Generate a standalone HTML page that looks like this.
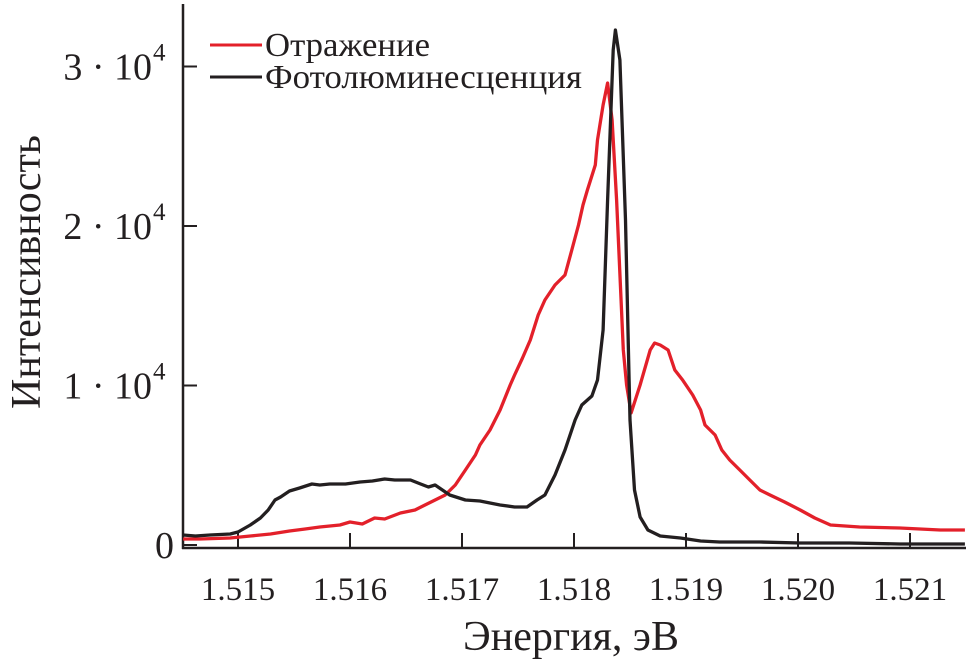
<!DOCTYPE html>
<html><head><meta charset="utf-8"><style>
html,body{margin:0;padding:0;background:#fff;}
svg text{font-family:"Liberation Serif",serif;fill:#231f20;}
</style></head><body>
<svg width="968" height="666" viewBox="0 0 968 666" xmlns="http://www.w3.org/2000/svg">
<g id="axes"></g>
<g id="series"></g>
<g>
  <line x1="210" y1="45" x2="262" y2="45" stroke="#e3202a" stroke-width="3"/>
  <text x="265" y="56" font-size="34" textLength="165" lengthAdjust="spacingAndGlyphs">Отражение</text>
  <line x1="210" y1="77" x2="262" y2="77" stroke="#231f20" stroke-width="3"/>
  <text x="265" y="88" font-size="34" textLength="317" lengthAdjust="spacingAndGlyphs">Фотолюминесценция</text>
</g>
<text x="571" y="650" font-size="42" text-anchor="middle">Энергия, эВ</text>
<text transform="translate(40,272) rotate(-90)" font-size="42" text-anchor="middle">Интенсивность</text>
</svg>
<script>
const xTicks = [1.515, 1.516, 1.517, 1.518, 1.519, 1.520, 1.521];
const xTickLabels = ["1.515", "1.516", "1.517", "1.518", "1.519", "1.520", "1.521"];
const yTicks = [0, 10000, 20000, 30000];
const yTickLabels = ["0", "1 · 10", "2 · 10", "3 · 10"];
const plE = [1.51451,1.51462,1.51475,1.51493,1.515,1.51511,1.5152,1.51527,1.51533,1.51538,1.51546,1.51555,1.51566,1.51573,1.51582,1.51596,1.51609,1.5162,1.51631,1.5164,1.51654,1.51663,1.5167,1.51676,1.51689,1.51703,1.51716,1.51734,1.51747,1.51758,1.51767,1.51774,1.51783,1.51792,1.51801,1.51807,1.51816,1.51821,1.51826,1.5183,1.51835,1.51837,1.51841,1.51846,1.5185,1.51854,1.51859,1.51866,1.51877,1.51895,1.51913,1.5193,1.51966,1.52002,1.52046,1.52091,1.52149];
const plI = [627,564,627,690,815,1254,1693,2195,2822,3010,3386,3574,3825,3762,3825,3825,3950,4013,4138,4076,4076,3825,3637,3762,3135,2822,2759,2508,2383,2383,2822,3135,4389,5957,7838,8778,9342,10346,13481,21632,31037,32291,30410,20378,7838,3449,1756,941,564,439,251,188,188,125,125,63,63];
const refE = [1.51451,1.51466,1.51493,1.51511,1.51529,1.51546,1.5156,1.51573,1.51591,1.516,1.51611,1.51622,1.51631,1.51645,1.51658,1.51667,1.51676,1.51685,1.51694,1.51703,1.51712,1.51716,1.51725,1.51734,1.51743,1.51747,1.51754,1.51761,1.51768,1.51774,1.51783,1.51792,1.51798,1.51804,1.51808,1.51812,1.51819,1.51821,1.51826,1.5183,1.51834,1.51838,1.51844,1.51847,1.51851,1.51859,1.51868,1.51872,1.51877,1.51884,1.5189,1.51897,1.51906,1.51913,1.51917,1.51926,1.51932,1.51939,1.51948,1.51957,1.51966,1.51975,1.51988,1.52002,1.52015,1.52029,1.52055,1.52091,1.52127,1.52149];
const refI = [376,376,439,564,690,878,1003,1129,1254,1442,1317,1693,1630,2006,2195,2508,2822,3135,3762,4703,5643,6270,7211,8465,10032,10659,11725,12854,14421,15362,16302,16929,18497,20064,21318,22259,23826,25394,27588,28967,26648,21632,12227,10032,8276,10032,12227,12665,12540,12227,10973,10346,9405,8465,7524,6897,5957,5330,4703,4076,3449,3135,2696,2195,1693,1254,1129,1066,941,941];

const NS = "http://www.w3.org/2000/svg";
const xOf = e => 238 + (e - 1.515) * 112000;
const yOf = v => 545 - v / 10000 * 159.5;
const axes = document.getElementById('axes');
const series = document.getElementById('series');
function mk(tag, attrs, parent) {
  const el = document.createElementNS(NS, tag);
  for (const k in attrs) el.setAttribute(k, attrs[k]);
  parent.appendChild(el);
  return el;
}
let el = mk('line', {x1:183, y1:4, x2:183, y2:549, stroke:'#231f20', 'stroke-width':2.5}, axes);


el = mk('line', {x1:182, y1:548, x2:966, y2:548, stroke:'#231f20', 'stroke-width':2.5}, axes);


xTicks.forEach((t, i) => {
  const x = xOf(t);
  const tk = mk('line', {x1:x, y1:548, x2:x, y2:533, stroke:'#231f20', 'stroke-width':2}, axes);
  
  
  const lb = mk('text', {x:x, y:600, 'font-size':33, 'text-anchor':'middle'}, axes);
  lb.textContent = xTickLabels[i];
  
  
});
yTicks.forEach((t, i) => {
  const y = yOf(t);
  const tk = mk('line', {x1:183, y1:y, x2:197, y2:y, stroke:'#231f20', 'stroke-width':2}, axes);
  
  
  const lb = mk('text', {x: t === 0 ? 174 : 152, y:y + 13, 'font-size':38, 'text-anchor':'end'}, axes);
  lb.textContent = yTickLabels[i];
  
  
  if (t !== 0) {
    const sp = mk('text', {x:153, y:y - 6, 'font-size':25, 'text-anchor':'start'}, axes);
    sp.textContent = "4";
    
    
  }
});
function line(E, I, color, name) {
  const d = E.map((e, i) => (i ? 'L' : 'M') + xOf(e).toFixed(1) + ',' + yOf(I[i]).toFixed(1)).join(' ');
  const p = mk('path', {d:d, fill:'none', stroke:color, 'stroke-width':3.3, 'stroke-linejoin':'round'}, series);
  
  
}
line(refE, refI, '#e3202a', 'reflection-line');
line(plE, plI, '#231f20', 'photoluminescence-line');
</script>
</body></html>
